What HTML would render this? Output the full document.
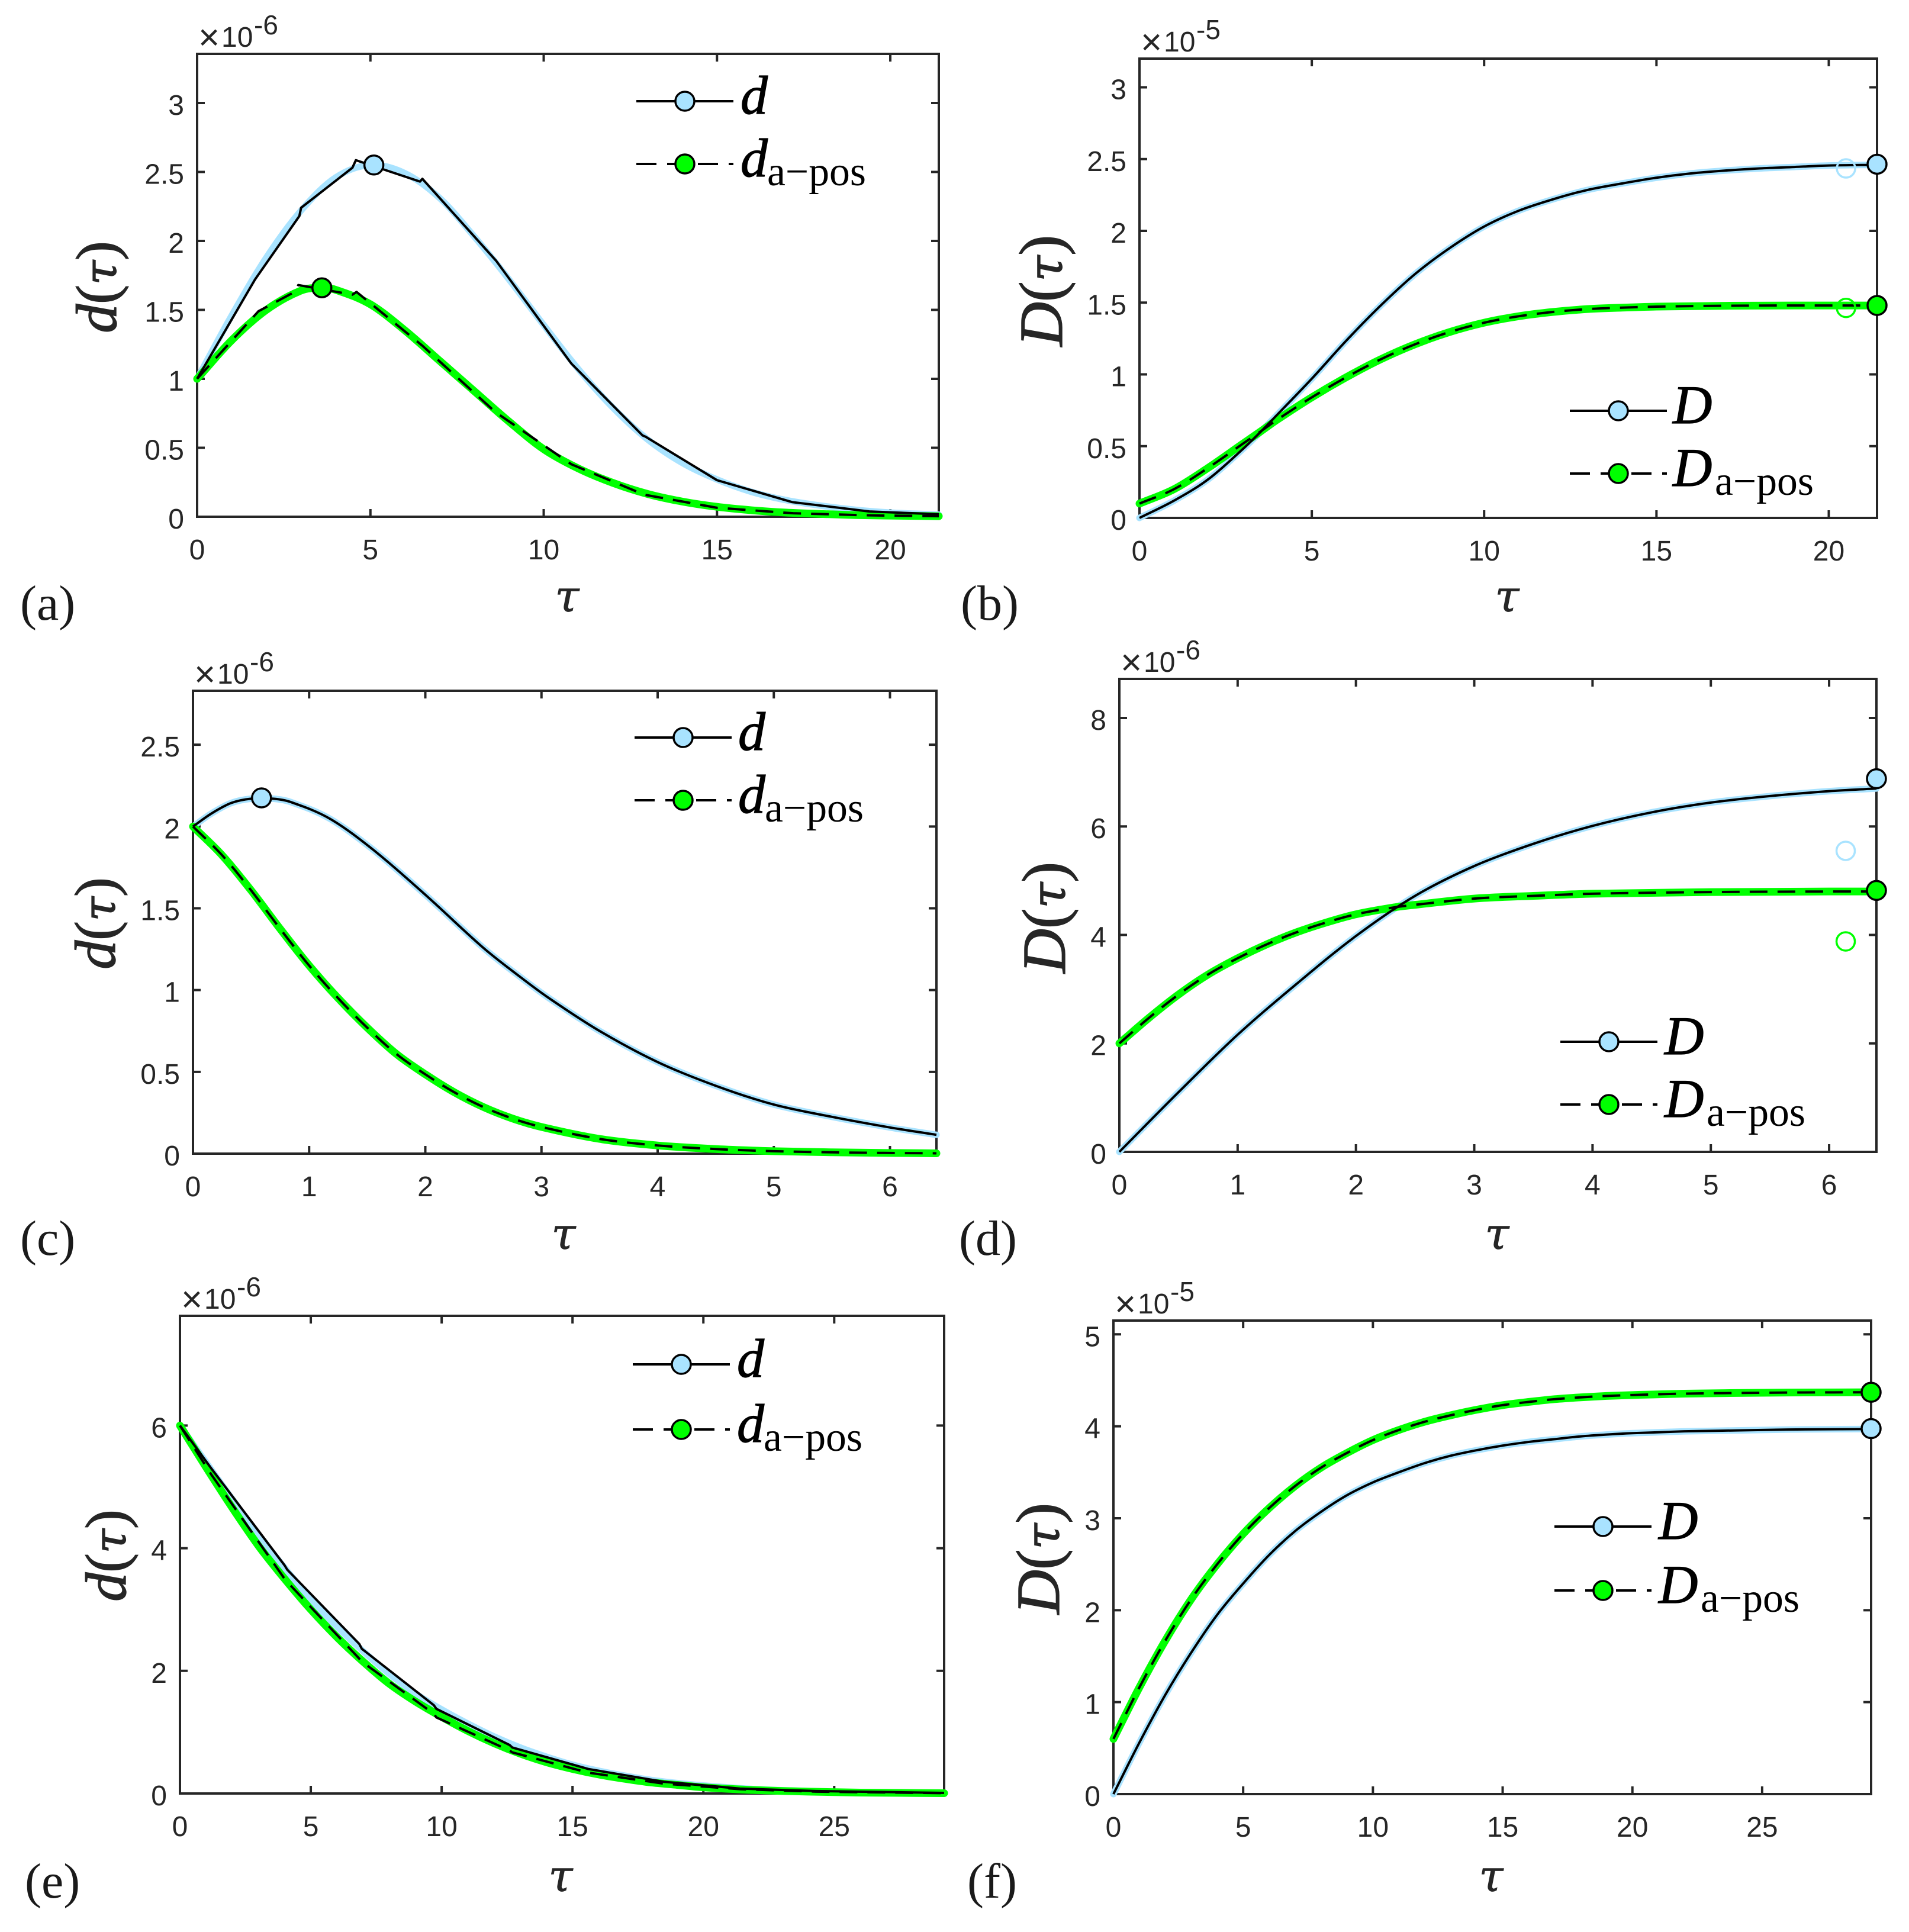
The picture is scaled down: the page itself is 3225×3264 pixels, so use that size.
<!DOCTYPE html>
<html lang="en">
<head>
<meta charset="utf-8">
<title>d and D curves</title>
<style>
html,body{margin:0;padding:0;background:#fff}
svg{display:block}
.tick{font-family:"Liberation Sans",sans-serif;font-size:48px;fill:#262626}
.exp{font-family:"Liberation Sans",sans-serif;font-size:48px;fill:#262626}
.sup{font-size:46px}
.times{font-size:62px}
.xl{font-family:"DejaVu Serif",serif;font-style:italic;font-size:74px;fill:#262626;text-anchor:middle;stroke:#262626;stroke-width:.8}
.yl{font-family:"Liberation Serif",serif;font-size:98px;fill:#262626;text-anchor:middle;stroke:#262626;stroke-width:1.4}
.yl.big{font-size:104px}
.yl .i{font-style:italic}
.yl .t{font-family:"DejaVu Serif",serif;font-style:italic;font-size:.76em}
.lg{font-family:"Liberation Serif",serif;font-style:italic;font-size:92px;fill:#000;stroke:#000;stroke-width:1.2}
.sub{font-family:"Liberation Serif",serif;font-size:70px;fill:#000}
.letter{font-family:"Liberation Serif",serif;font-size:84px;fill:#1a1a1a}
</style>
</head>
<body>
<svg id="fig" xmlns="http://www.w3.org/2000/svg" width="3225" height="3264" viewBox="0 0 3225 3264">
<rect width="3225" height="3264" fill="#fff"/>
<g id="plots"></g>

<g>
<text class="exp"><tspan class="times" x="335" y="84">×</tspan><tspan x="374" y="79">10</tspan><tspan class="sup" x="429" y="58">-6</tspan></text>
<text class="xl" x="958" y="1033">τ</text>
<text class="yl" transform="translate(196 485) rotate(-90)"><tspan class="i">d</tspan>(<tspan class="t">τ</tspan>)</text>
<text class="letter" x="34" y="1047">(a)</text>
<text class="lg" x="1251" y="192">d</text>
<text class="lg" x="1251" y="298">d</text>
<text class="sub" x="1296" y="313" textLength="167" lengthAdjust="spacingAndGlyphs">a−pos</text>
</g>

<g>
<text class="exp"><tspan class="times" x="1927" y="92">×</tspan><tspan x="1966" y="87">10</tspan><tspan class="sup" x="2021" y="66">-5</tspan></text>
<text class="xl" x="2546" y="1033">τ</text>
<text class="yl big" transform="translate(1794 491) rotate(-90)"><tspan class="i">D</tspan>(<tspan class="t">τ</tspan>)</text>
<text class="letter" x="1623" y="1047">(b)</text>
<text class="lg" x="2826" y="715">D</text>
<text class="lg" x="2826" y="821">D</text>
<text class="sub" x="2897" y="836" textLength="167" lengthAdjust="spacingAndGlyphs">a−pos</text>
</g>

<g>
<text class="exp"><tspan class="times" x="328" y="1160">×</tspan><tspan x="367" y="1155">10</tspan><tspan class="sup" x="422" y="1134">-6</tspan></text>
<text class="xl" x="952" y="2110">τ</text>
<text class="yl" transform="translate(194 1560) rotate(-90)"><tspan class="i">d</tspan>(<tspan class="t">τ</tspan>)</text>
<text class="letter" x="34" y="2120">(c)</text>
<text class="lg" x="1247" y="1267">d</text>
<text class="lg" x="1247" y="1373">d</text>
<text class="sub" x="1292" y="1388" textLength="167" lengthAdjust="spacingAndGlyphs">a−pos</text>
</g>

<g>
<text class="exp"><tspan class="times" x="1893" y="1140">×</tspan><tspan x="1932" y="1135">10</tspan><tspan class="sup" x="1987" y="1114">-6</tspan></text>
<text class="xl" x="2529" y="2110">τ</text>
<text class="yl big" transform="translate(1799 1550) rotate(-90)"><tspan class="i">D</tspan>(<tspan class="t">τ</tspan>)</text>
<text class="letter" x="1620" y="2120">(d)</text>
<text class="lg" x="2812" y="1781">D</text>
<text class="lg" x="2812" y="1887">D</text>
<text class="sub" x="2883" y="1902" textLength="167" lengthAdjust="spacingAndGlyphs">a−pos</text>
</g>

<g>
<text class="exp"><tspan class="times" x="306" y="2216">×</tspan><tspan x="345" y="2211">10</tspan><tspan class="sup" x="400" y="2190">-6</tspan></text>
<text class="xl" x="947" y="3195">τ</text>
<text class="yl" transform="translate(212 2628) rotate(-90)"><tspan class="i">d</tspan>(<tspan class="t">τ</tspan>)</text>
<text class="letter" x="42" y="3206">(e)</text>
<text class="lg" x="1245" y="2326">d</text>
<text class="lg" x="1245" y="2436">d</text>
<text class="sub" x="1290" y="2451" textLength="167" lengthAdjust="spacingAndGlyphs">a−pos</text>
</g>

<g>
<text class="exp"><tspan class="times" x="1883" y="2224">×</tspan><tspan x="1922" y="2219">10</tspan><tspan class="sup" x="1977" y="2198">-5</tspan></text>
<text class="xl" x="2519" y="3195">τ</text>
<text class="yl big" transform="translate(1789 2633) rotate(-90)"><tspan class="i">D</tspan>(<tspan class="t">τ</tspan>)</text>
<text class="letter" x="1634" y="3206">(f)</text>
<text class="lg" x="2802" y="2600">D</text>
<text class="lg" x="2802" y="2708">D</text>
<text class="sub" x="2873" y="2723" textLength="167" lengthAdjust="spacingAndGlyphs">a−pos</text>
</g>
</svg>

<script>
// ---- Panel (a) data ----
const aXTicks = ['0','5','10','15','20'];
const aYTicks = ['0','0.5','1','1.5','2','2.5','3'];
const aTau = [0,1,2,3,4,5,6,7,8,9,10,11,12,13,14,15,16,17,18,19,20,21.4];
const aD = [1,1.46,1.88,2.22,2.46,2.55,2.49,2.31,2.03,1.72,1.39,1.07,0.79,0.56,0.39,0.27,0.18,0.12,0.08,0.05,0.03,0.015];
const aPosTau = [0,1,2,3,3.6,4,5,6,7,8,9,10,11,12,13,14,15,16,17,18,19,20,21.4];
const aPos = [1,1.28,1.5,1.64,1.66,1.645,1.54,1.35,1.13,0.91,0.69,0.49,0.35,0.245,0.165,0.11,0.072,0.047,0.03,0.02,0.012,0.008,0.004];
const aBlackTau = [0,1.67,2.95,3,4.48,4.58,6.43,6.5,8.63,10.74,10.8,12.85,12.94,15,17.17,19.4,21.4];
const aBlack = [1,1.72,2.18,2.24,2.53,2.585,2.43,2.45,1.855,1.13,1.11,0.59,0.58,0.265,0.106,0.038,0.018];
const aBlackPosTau = [0,1.77,2.85,2.92,4.48,4.6,6.5,8.6,10.8,12.9,15,17.2,19.4,21.4];
const aBlackPos = [1,1.49,1.635,1.68,1.61,1.63,1.24,0.76,0.38,0.16,0.065,0.025,0.01,0.004];
const aPeaks = [[5.1,2.55],[3.6,1.66]];

// ---- Panel (b) data ----
const bXTicks = ['0','5','10','15','20'];
const bYTicks = ['0','0.5','1','1.5','2','2.5','3'];
const bTau = [0,1,2,3,3.5,4,5,6,7,8,9,10,11,12,13,14,15,16,17,18,19,20,21.4];
const bD = [0,0.12,0.27,0.48,0.596,0.72,0.97,1.235,1.48,1.7,1.88,2.03,2.14,2.22,2.285,2.33,2.37,2.4,2.42,2.435,2.445,2.455,2.46];
const bPosTau = [0,1,2,3,3.5,4,5,6,7,8,9,10,11,12,13,14,15,17,19,21.4];
const bPos = [0.1,0.2,0.35,0.517,0.6,0.685,0.84,0.98,1.105,1.21,1.295,1.36,1.405,1.435,1.455,1.465,1.472,1.478,1.48,1.48];
const bEnds = [[21.4,2.464],[21.4,1.48]];
const bOpen = [[20.5,2.435],[20.5,1.463]];

// ---- Panel (c) data ----
const cXTicks = ['0','1','2','3','4','5','6'];
const cYTicks = ['0','0.5','1','1.5','2','2.5'];
const cTau = [0,0.16,0.33,0.5,0.69,0.84,1.18,1.56,2,2.5,2.81,3.06,3.5,4,4.5,5,5.5,6,6.4];
const cD = [2,2.08,2.144,2.17,2.17,2.15,2.047,1.853,1.583,1.258,1.084,0.953,0.75,0.56,0.415,0.3,0.225,0.16,0.115];
const cPosTau = [0,0.25,0.5,0.75,1,1.25,1.5,1.75,2,2.25,2.5,2.75,3,3.5,4,4.5,5,5.5,6,6.4];
const cPos = [2,1.825,1.61,1.375,1.15,0.95,0.77,0.61,0.485,0.375,0.285,0.215,0.163,0.09,0.05,0.028,0.015,0.008,0.004,0.002];
const cPeaks = [[0.59,2.175]];

// ---- Panel (d) data ----
const dXTicks = ['0','1','2','3','4','5','6'];
const dYTicks = ['0','2','4','6','8'];
const dTau = [0,0.5,1,1.5,2,2.5,3,3.5,4,4.5,5,5.5,6,6.4];
const dD = [0,1.1,2.16,3.1,3.98,4.72,5.27,5.68,6.01,6.26,6.44,6.56,6.65,6.7];
const dPosTau = [0,0.25,0.5,0.75,1,1.25,1.5,1.75,2,2.33,2.5,3,3.5,4,5,6,6.4];
const dPos = [2,2.47,2.9,3.27,3.57,3.83,4.05,4.23,4.38,4.51,4.555,4.67,4.72,4.76,4.79,4.8,4.8];
const dEnds = [[6.4,6.88],[6.4,4.82]];
const dOpen = [[6.14,5.55],[6.14,3.88]];

// ---- Panel (e) data ----
const eXTicks = ['0','5','10','15','20','25'];
const eYTicks = ['0','2','4','6'];
const eTau = [0,1,2,3,4,5,6,7,8,9,10,11,12,13,14,15,16,17,18,19,20,22,24,26,29.2];
const eD = [6,5.4,4.8,4.22,3.68,3.17,2.72,2.32,1.95,1.63,1.37,1.14,0.93,0.75,0.6,0.47,0.37,0.29,0.22,0.17,0.13,0.07,0.04,0.02,0.01];
const ePos = [6,5.32,4.66,4.04,3.5,3,2.55,2.15,1.79,1.5,1.25,1.02,0.82,0.65,0.51,0.4,0.31,0.24,0.18,0.14,0.1,0.055,0.03,0.015,0.005];
const eBlackTau = [0,1.2,4,4.1,6.85,6.95,9.7,9.8,12.6,12.7,15.6,18.5,21.4,24.3,29.2];
const eBlack = [6,5.3,3.72,3.65,2.44,2.36,1.44,1.38,0.79,0.75,0.4,0.19,0.08,0.04,0.01];
const eBlackPos = [6,5.2,3.5,3.45,2.2,2.15,1.3,1.24,0.7,0.67,0.34,0.16,0.07,0.03,0.005];

// ---- Panel (f) data ----
const fXTicks = ['0','5','10','15','20','25'];
const fYTicks = ['0','1','2','3','4','5'];
const fTau = [0,1,2,3,4,5,6,7,8,9,10,11,12,13,14,15,16,17,18,19,20,22,24,26,29.2];
const fD = [0,0.56,1.08,1.54,1.95,2.29,2.6,2.86,3.07,3.25,3.39,3.5,3.6,3.68,3.74,3.79,3.83,3.86,3.89,3.91,3.925,3.945,3.955,3.965,3.97];
const fPos = [0.6,1.16,1.67,2.12,2.5,2.83,3.11,3.35,3.55,3.71,3.85,3.96,4.05,4.12,4.18,4.23,4.265,4.295,4.315,4.33,4.34,4.355,4.362,4.367,4.37];
const fEnds = [[29.2,3.975],[29.2,4.37]];

const BLUE = '#a9e3ff';
const GREEN = '#00ff00';
const AXIS = '#262626';
const NS = 'http://www.w3.org/2000/svg';
const root = document.getElementById('plots');

function mk(tag, attrs, parent) {
  const el = document.createElementNS(NS, tag);
  for (const k in attrs) el.setAttribute(k, attrs[k]);
  parent.appendChild(el);
  return el;
}

function smoothPath(pts) {
  let d = 'M' + pts[0][0] + ' ' + pts[0][1];
  for (let i = 0; i < pts.length - 1; i++) {
    const p0 = pts[Math.max(0, i - 1)], p1 = pts[i], p2 = pts[i + 1], p3 = pts[Math.min(pts.length - 1, i + 2)];
    const h = p2[0] - p1[0];
    const m1 = (p2[1] - p0[1]) / ((p2[0] - p0[0]) || 1);
    const m2 = (p3[1] - p1[1]) / ((p3[0] - p1[0]) || 1);
    d += ' C' + (p1[0] + h / 3) + ' ' + (p1[1] + m1 * h / 3) + ' ' + (p2[0] - h / 3) + ' ' + (p2[1] - m2 * h / 3) + ' ' + p2[0] + ' ' + p2[1];
  }
  return d;
}

function linePath(pts) {
  return 'M' + pts.map(function (p) { return p[0] + ' ' + p[1]; }).join(' L');
}

function zip(xs, ys, xf, yf) {
  return xs.map(function (x, i) { return [xf(x), yf(ys[i])]; });
}

function drawPanel(p) {
  const g = mk('g', {}, root);
  
  
  const xf = function (v) { return p.L + (v / p.xMax) * (p.R - p.L); };
  const yf = function (v) { return p.B - (v / p.yMax) * (p.B - p.T); };

  const frame = mk('rect', { x: p.L, y: p.T, width: p.R - p.L, height: p.B - p.T, fill: 'none', stroke: AXIS, 'stroke-width': 4 }, g);
  
  

  p.xTicks.forEach(function (t) {
    const x = xf(parseFloat(t));
    const tk = mk('path', { d: 'M' + x + ' ' + p.B + 'v-13M' + x + ' ' + p.T + 'v13', stroke: AXIS, 'stroke-width': 4, fill: 'none' }, g);
    
    
    const lb = mk('text', { class: 'tick', x: x, y: p.B + 72, 'text-anchor': 'middle' }, g);
    lb.textContent = t;
    
    
  });
  p.yTicks.forEach(function (t) {
    const y = yf(parseFloat(t));
    const tk = mk('path', { d: 'M' + p.L + ' ' + y + 'h13M' + p.R + ' ' + y + 'h-13', stroke: AXIS, 'stroke-width': 4, fill: 'none' }, g);
    
    
    const lb = mk('text', { class: 'tick', x: p.L - 22, y: y + 20, 'text-anchor': 'end' }, g);
    lb.textContent = t;
    
    
  });

  const lightA = mk('path', { d: smoothPath(zip(p.tau, p.d, xf, yf)), fill: 'none', stroke: BLUE, 'stroke-width': 11, 'stroke-linecap': 'round', 'stroke-linejoin': 'round' }, g);
  
  
  const lightB = mk('path', { d: smoothPath(zip(p.posTau, p.pos, xf, yf)), fill: 'none', stroke: GREEN, 'stroke-width': 13, 'stroke-linecap': 'round', 'stroke-linejoin': 'round' }, g);
  
  

  const blackA = p.blackTau ? linePath(zip(p.blackTau, p.black, xf, yf)) : smoothPath(zip(p.tau, p.d, xf, yf));
  const blackB = p.blackPosTau ? linePath(zip(p.blackPosTau, p.blackPos, xf, yf)) : smoothPath(zip(p.posTau, p.pos, xf, yf));
  const lineA = mk('path', { d: blackA, fill: 'none', stroke: '#000', 'stroke-width': 4, 'stroke-linejoin': 'round' }, g);
  
  
  const lineB = mk('path', { d: blackB, fill: 'none', stroke: '#000', 'stroke-width': 4, 'stroke-dasharray': '30 17', 'stroke-linejoin': 'round' }, g);
  
  

  (p.open || []).forEach(function (m, i) {
    const c = mk('circle', { cx: xf(m[0]), cy: yf(m[1]), r: 15.5, fill: 'none', stroke: i === 0 ? BLUE : GREEN, 'stroke-width': 3.5 }, g);
    
    
  });
  p.filled.forEach(function (m, i) {
    const c = mk('circle', { cx: xf(m[0]), cy: yf(m[1]), r: 16, fill: p.filledColors[i], stroke: '#000', 'stroke-width': 3.5 }, g);
    
    
  });

  const lx = p.lx, mx = lx + 82;
  const s1 = mk('path', { d: 'M' + lx + ' ' + p.ly1 + 'h164', stroke: '#000', 'stroke-width': 4, fill: 'none' }, g);
  
  
  const c1 = mk('circle', { cx: mx, cy: p.ly1, r: 16, fill: BLUE, stroke: '#000', 'stroke-width': 3.5 }, g);
  
  
  const s2 = mk('path', { d: 'M' + lx + ' ' + p.ly2 + 'h164', stroke: '#000', 'stroke-width': 4, fill: 'none', 'stroke-dasharray': '34 18' }, g);
  
  
  const c2 = mk('circle', { cx: mx, cy: p.ly2, r: 16, fill: GREEN, stroke: '#000', 'stroke-width': 3.5 }, g);
  
  
}

drawPanel({ id:'a', L:333, R:1586, T:91, B:873, xMax:21.4, yMax:3.356, xTicks:aXTicks, yTicks:aYTicks,
  tau:aTau, d:aD, posTau:aPosTau, pos:aPos, blackTau:aBlackTau, black:aBlack, blackPosTau:aBlackPosTau, blackPos:aBlackPos,
  filled:aPeaks, filledColors:[BLUE,GREEN], lx:1075, ly1:171, ly2:277 });
drawPanel({ id:'b', L:1925, R:3171, T:99, B:875, xMax:21.4, yMax:3.2, xTicks:bXTicks, yTicks:bYTicks,
  tau:bTau, d:bD, posTau:bPosTau, pos:bPos,
  filled:bEnds, filledColors:[BLUE,GREEN], open:bOpen, lx:2652, ly1:694, ly2:800 });
drawPanel({ id:'c', L:326, R:1582, T:1167, B:1949, xMax:6.4, yMax:2.83, xTicks:cXTicks, yTicks:cYTicks,
  tau:cTau, d:cD, posTau:cPosTau, pos:cPos,
  filled:cPeaks, filledColors:[BLUE], lx:1072, ly1:1246, ly2:1352 });
drawPanel({ id:'d', L:1891, R:3170, T:1147, B:1946, xMax:6.4, yMax:8.72, xTicks:dXTicks, yTicks:dYTicks,
  tau:dTau, d:dD, posTau:dPosTau, pos:dPos,
  filled:dEnds, filledColors:[BLUE,GREEN], open:dOpen, lx:2636, ly1:1760, ly2:1866 });
drawPanel({ id:'e', L:304, R:1595, T:2223, B:3030, xMax:29.2, yMax:7.79, xTicks:eXTicks, yTicks:eYTicks,
  tau:eTau, d:eD, posTau:eTau, pos:ePos, blackTau:eBlackTau, black:eBlack, blackPosTau:eBlackTau, blackPos:eBlackPos,
  filled:[], filledColors:[], lx:1069, ly1:2305, ly2:2415 });
drawPanel({ id:'f', L:1881, R:3161, T:2231, B:3031, xMax:29.2, yMax:5.15, xTicks:fXTicks, yTicks:fYTicks,
  tau:fTau, d:fD, posTau:fTau, pos:fPos,
  filled:fEnds, filledColors:[BLUE,GREEN], lx:2626, ly1:2579, ly2:2687 });
</script>
</body>
</html>
